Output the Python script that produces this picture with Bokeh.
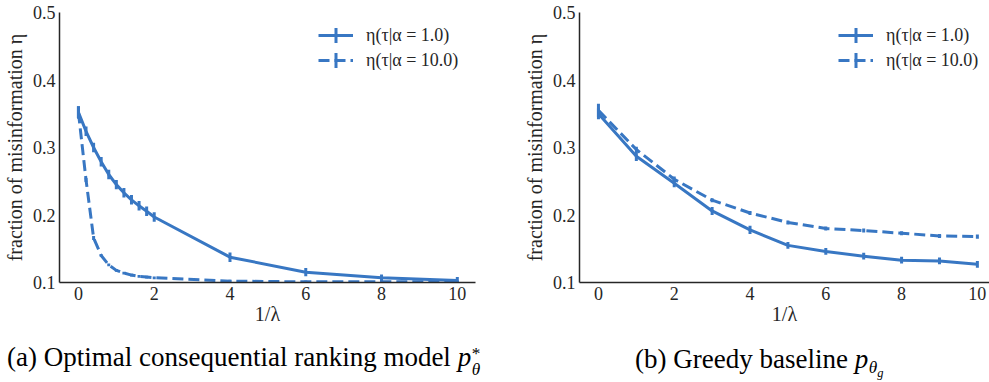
from bokeh.plotting import figure
from bokeh.layouts import row, column
from bokeh.models import (ColumnDataSource, FixedTicker, Legend, LegendItem,
                          BoxAnnotation, Range1d, Div)
from bokeh.embed import file_html
from bokeh.resources import INLINE

# ---- data -------------------------------------------------------------
# (a) optimal consequential ranking model, fraction of misinformation vs 1/lambda
inv_lambda_opt = [0, 0.2, 0.4, 0.6, 0.8, 1.0, 1.2, 1.4, 1.6, 1.8, 2.0, 4, 6, 8, 10]
eta_opt_a1 = [0.352, 0.324, 0.300, 0.279, 0.260, 0.245, 0.233, 0.2225, 0.2136,
              0.2056, 0.197, 0.1375, 0.1153, 0.107, 0.103]
err_opt_a1 = [0.009, 0.007, 0.007, 0.007, 0.007, 0.007, 0.007, 0.007, 0.007,
              0.007, 0.007, 0.007, 0.006, 0.005, 0.005]
eta_opt_a10 = [0.352, 0.252, 0.166, 0.140, 0.126, 0.118, 0.114, 0.111, 0.109,
               0.108, 0.107, 0.102, 0.101, 0.101, 0.101]
err_opt_a10 = [0.009, 0.003, 0.003, 0.002, 0.002, 0.002, 0.002, 0.002, 0.002,
               0.002, 0.002, 0.002, 0.002, 0.002, 0.002]

# (b) greedy baseline
inv_lambda_greedy = [0, 1, 2, 3, 4, 5, 6, 7, 8, 9, 10]
eta_greedy_a1 = [0.350, 0.287, 0.247, 0.206, 0.178, 0.155, 0.146, 0.139, 0.133, 0.132, 0.127]
err_greedy_a1 = [0.008, 0.007, 0.006, 0.006, 0.006, 0.005, 0.005, 0.005, 0.005, 0.005, 0.005]
eta_greedy_a10 = [0.355, 0.297, 0.253, 0.222, 0.203, 0.189, 0.180, 0.177, 0.173, 0.169, 0.168]
err_greedy_a10 = [0.010, 0.004, 0.004, 0.003, 0.003, 0.003, 0.003, 0.003, 0.003, 0.003, 0.003]

x_ticks = [0, 2, 4, 6, 8, 10]
y_ticks = [0.1, 0.2, 0.3, 0.4, 0.5]
y_tick_labels = ["0.1", "0.2", "0.3", "0.4", "0.5"]
series_labels = ["η(τ|α = 1.0)", "η(τ|α = 10.0)"]
x_label = "1/λ"
y_label = "fraction of misinformation η"

BLUE = "#3877c3"
INK = "#262626"
SERIF = "Liberation Serif"
DASH = "11 5"

# legend geometry (screen px, measured from the frame's bottom-left corner)
LEG_X, LEG_Y = 259, 211
GLYPH_W, ROW_H, ROW_GAP = 35, 22, 3
TICK_HALF = 7.5


def make_panel(x, series, width, border_left, border_right, x_end):
    p = figure(width=width, height=340, output_backend="svg", toolbar_location=None,
               x_range=Range1d(-0.5, x_end), y_range=Range1d(0.1, 0.5),
               min_border_left=border_left, min_border_right=border_right,
               min_border_top=12, min_border_bottom=58)
    p.outline_line_color = None
    p.grid.visible = False

    for ax in (p.xaxis[0], p.yaxis[0]):
        ax.axis_line_color = INK
        ax.axis_line_width = 1.5
        ax.major_tick_in = 0
        ax.major_tick_out = 0
        ax.minor_tick_in = 0
        ax.minor_tick_out = 0
        ax.major_label_text_font = SERIF
        ax.major_label_text_font_size = "18px"
        ax.major_label_text_color = INK
        ax.axis_label_text_font = SERIF
        ax.axis_label_text_font_style = "normal"
        ax.axis_label_text_font_size = "20px"
        ax.axis_label_text_color = INK

    p.xaxis.ticker = FixedTicker(ticks=x_ticks)
    p.yaxis.ticker = FixedTicker(ticks=y_ticks)
    p.yaxis.major_label_overrides = dict(zip(y_ticks, y_tick_labels))
    p.xaxis.major_label_standoff = 4
    p.yaxis.major_label_standoff = 4
    p.xaxis.axis_label = x_label
    p.yaxis.axis_label = y_label
    p.xaxis.axis_label_standoff = 0
    p.yaxis.axis_label_standoff = 4

    items = []
    for (y, err, dash), label in zip(series, series_labels):
        src = ColumnDataSource(dict(
            x=x, y=y,
            lo=[v - e for v, e in zip(y, err)],
            hi=[v + e for v, e in zip(y, err)]))
        ln = p.line("x", "y", source=src, line_color=BLUE, line_width=3,
                    line_dash=dash, line_join="round")
        p.segment(x0="x", y0="lo", x1="x", y1="hi", source=src,
                  line_color=BLUE, line_width=3)
        items.append(LegendItem(label=label, renderers=[ln]))

    legend = Legend(items=items, location=(LEG_X, LEG_Y), padding=0, margin=0,
                    spacing=ROW_GAP, glyph_width=GLYPH_W, glyph_height=ROW_H,
                    label_height=ROW_H, label_standoff=13,
                    background_fill_alpha=0, border_line_alpha=0,
                    label_text_font=SERIF, label_text_font_size="18px",
                    label_text_color=INK)
    p.add_layout(legend)

    # error-bar tick drawn across the centre of each legend line sample
    top = LEG_Y + 2 * ROW_H + ROW_GAP
    cx = LEG_X + GLYPH_W / 2
    for i in range(len(items)):
        cy = top - ROW_H / 2 - i * (ROW_H + ROW_GAP)
        p.add_layout(BoxAnnotation(
            left=cx - 1.5, right=cx + 1.5, bottom=cy - TICK_HALF, top=cy + TICK_HALF,
            left_units="screen", right_units="screen",
            bottom_units="screen", top_units="screen",
            fill_color=BLUE, fill_alpha=1.0, line_alpha=0))
    return p


left = make_panel(inv_lambda_opt,
                  [(eta_opt_a1, err_opt_a1, "solid"), (eta_opt_a10, err_opt_a10, DASH)],
                  width=494, border_left=59, border_right=19, x_end=10.48)
right = make_panel(inv_lambda_greedy,
                   [(eta_greedy_a1, err_greedy_a1, "solid"), (eta_greedy_a10, err_greedy_a10, DASH)],
                   width=495, border_left=85, border_right=0, x_end=10.32)

SUBSUP = ("display:inline-block; vertical-align:-0.5em; font-size:0.64em; "
          "line-height:0.92em; text-align:left; margin-left:0.04em")


def caption(html, width, pad_left):
    return Div(text=html, width=width, height=42, margin=0,
               styles={"font-family": SERIF, "font-size": "27px", "line-height": "27px",
                       "color": "black", "white-space": "nowrap",
                       "padding-top": "4px", "padding-left": f"{pad_left}px",
                       "box-sizing": "border-box"})


cap_a = caption("(a) Optimal consequential ranking model <i>p</i>"
                f"<span style='{SUBSUP}'>*<br><i>θ</i></span>", 494, 7)
cap_b = caption("(b) Greedy baseline <i>p</i>"
                f"<span style='{SUBSUP}; vertical-align:-0.3em'><br><i>θ<span style='font-size:0.72em; "
                "position:relative; top:0.3em'>g</span></i></span>", 495, 141)

layout = column(row(left, right, spacing=0), row(cap_a, cap_b, spacing=0), spacing=0)
open("out.html", "w").write(file_html(layout, INLINE))
